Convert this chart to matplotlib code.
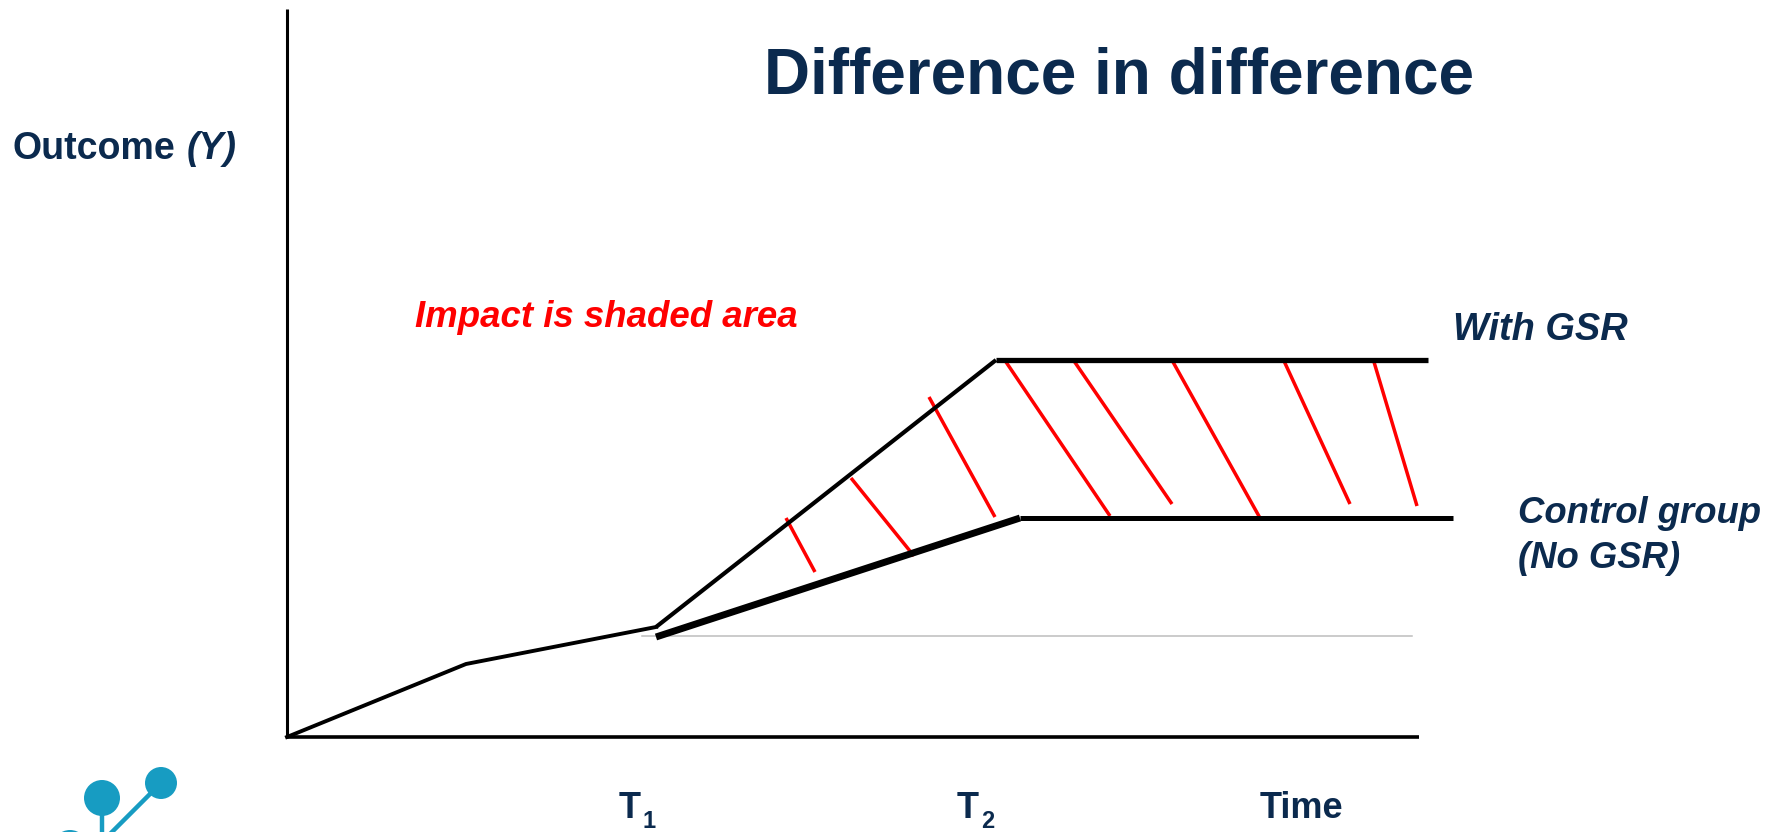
import matplotlib
matplotlib.use("Agg")
import matplotlib.pyplot as plt
from matplotlib.patches import Circle

# diagram units: 1 unit = 100 px, origin at the axes corner
time_base = [0.0, 1.79, 3.69]
outcome_base = [0.0, 0.73, 1.10]

time_gsr = [3.69, 7.09, 11.41]
outcome_gsr = [1.10, 3.77, 3.77]

time_ctrl = [3.69, 7.33, 11.66]
outcome_ctrl = [1.00, 2.19, 2.19]

# counterfactual level after T1
trend_x = [3.55, 11.25]
trend_y = [1.01, 1.01]

# red hatch strokes between the two groups (x0, y0, x1, y1)
hatch_x0 = [4.99, 5.64, 6.42, 7.19, 7.87, 8.86, 9.97, 10.87]
hatch_y0 = [2.19, 2.59, 3.40, 3.75, 3.76, 3.75, 3.76, 3.75]
hatch_x1 = [5.28, 6.27, 7.08, 8.23, 8.85, 9.73, 10.63, 11.30]
hatch_y1 = [1.65, 1.81, 2.20, 2.21, 2.33, 2.19, 2.33, 2.31]

x_axis_end = 11.32
y_axis_end = 7.28

NAVY = "#0B2A4E"
TEAL = "#179CC2"
FONT = "Liberation Sans"

fig = plt.figure(figsize=(17.83, 8.32), dpi=100)
ax = fig.add_axes([0, 0, 1, 1])
ax.set_xlim(-2.87, 14.96)
ax.set_ylim(-0.95, 7.37)
ax.axis("off")

# axes
ax.plot([0, 0], [0, y_axis_end], color="black", lw=2.2, solid_capstyle="butt")
ax.plot([0, x_axis_end], [0, 0], color="black", lw=2.6, solid_capstyle="butt")

ax.plot(trend_x, trend_y, color="#BDBDBD", lw=1.1)

for x0, y0, x1, y1 in zip(hatch_x0, hatch_y0, hatch_x1, hatch_y1):
    ax.plot([x0, x1], [y0, y1], color="red", lw=2.5, solid_capstyle="butt")

ax.plot(time_base, outcome_base, color="black", lw=2.8, solid_joinstyle="miter")
ax.plot(time_gsr[:2], outcome_gsr[:2], color="black", lw=3.0, solid_capstyle="butt")
ax.plot(time_gsr[1:], outcome_gsr[1:], color="black", lw=3.8, solid_capstyle="butt")
ax.plot(time_ctrl[:2], outcome_ctrl[:2], color="black", lw=5.0, solid_capstyle="butt")
ax.plot(time_ctrl[1:], outcome_ctrl[1:], color="black", lw=3.6, solid_capstyle="butt")

# texts
ax.text(8.32, 6.44, "Difference in difference", fontsize=46, fontweight="bold",
        color=NAVY, family=FONT, ha="center", va="baseline")
ax.text(-2.74, 5.78, "Outcome", fontsize=27, fontweight="bold",
        color=NAVY, family=FONT, ha="left", va="baseline")
ax.text(-1.00, 5.78, "(Y)", fontsize=27, fontweight="bold", style="italic",
        color=NAVY, family=FONT, ha="left", va="baseline")
ax.text(1.28, 4.10, "Impact is shaded area", fontsize=26.4, fontweight="bold",
        style="italic", color="red", family=FONT, ha="left", va="baseline")
ax.text(11.66, 3.97, "With GSR", fontsize=27.4, fontweight="bold", style="italic",
        color=NAVY, family=FONT, ha="left", va="baseline")
ax.text(12.31, 2.14, "Control group", fontsize=26.3, fontweight="bold", style="italic",
        color=NAVY, family=FONT, ha="left", va="baseline")
ax.text(12.31, 1.69, "(No GSR)", fontsize=26.3, fontweight="bold", style="italic",
        color=NAVY, family=FONT, ha="left", va="baseline")

for tx, sub in [(3.32, "1"), (6.70, "2")]:
    ax.text(tx, -0.81, "T", fontsize=26, fontweight="bold", color=NAVY,
            family=FONT, ha="left", va="baseline")
    ax.text(tx + 0.24, -0.91, sub, fontsize=17, fontweight="bold", color=NAVY,
            family=FONT, ha="left", va="baseline")
ax.text(9.73, -0.81, "Time", fontsize=26, fontweight="bold", color=NAVY,
        family=FONT, ha="left", va="baseline")

# logo in the lower left corner
ax.plot([-1.85, -1.85], [-0.61, -0.97], color=TEAL, lw=3.2)
ax.plot([-1.26, -1.77], [-0.46, -0.97], color=TEAL, lw=3.2)
for cx, cy, r in [(-1.85, -0.61, 0.18), (-1.26, -0.46, 0.16), (-2.17, -1.11, 0.18)]:
    ax.add_patch(Circle((cx, cy), r, color=TEAL, lw=0))

fig.savefig("out.png", dpi=100)
